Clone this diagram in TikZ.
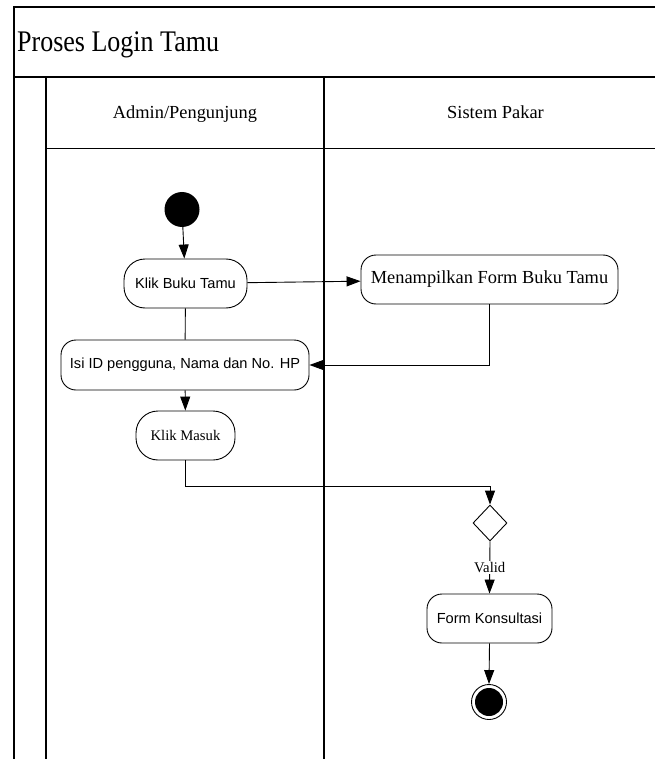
\documentclass[tikz,border=0pt]{standalone}
\usepackage{fontspec}
\setmainfont{Liberation Serif}
\newfontfamily\arialf{Liberation Sans}
\usetikzlibrary{arrows.meta,shapes.geometric}
\begin{document}
\begin{tikzpicture}[x=1pt,y=-1pt,
  act/.style={draw, line width=0.9pt, rounded corners=15pt, minimum height=49pt, inner sep=0pt, align=center},
  sans/.style={font=\arialf\fontsize{14.6}{17}\selectfont},
  serif/.style={font=\fontsize{14.7}{17}\selectfont},
  big/.style={font=\fontsize{18.4}{22}\selectfont},
  arr/.style={-{Triangle[length=14pt,width=10pt]}, line width=0.9pt},
  ln/.style={line width=0.9pt},
  framel/.style={line width=1.1pt}
]
\useasboundingbox (0,0) rectangle (654,759);
% frame and swimlanes
\draw[framel] (14,759) -- (14,7) -- (680,7);
\draw[line width=1.6pt] (14,77) -- (680,77);
\draw[framel] (46,77) -- (46,759);
\draw[framel] (324,77) -- (324,759);
\draw[framel] (46,148.5) -- (680,148.5);
\node[anchor=base west, inner sep=0pt, font=\fontsize{26}{30}\selectfont] (title) at (17,52) {\scalebox{1}[1.15]{Proses Login Tamu}};
\node[anchor=base, inner sep=0pt, big] (h1) at (185,119) {Admin/Pengunjung};
\node[anchor=base, inner sep=0pt, big] (h2) at (495.5,119) {Sistem Pakar};
% nodes
\node[circle, fill=black, minimum width=33pt, minimum height=35pt, inner sep=0pt] (start) at (182,209.5) {};
\node[act, sans, rounded corners=21pt, minimum width=123pt] (klik) at (185.5,283.5) {Klik Buku Tamu};
\node[act, big, minimum width=257pt] (tampil) at (489.5,279.5) {Menampilkan Form Buku Tamu};
\node[act, sans, minimum width=248pt, minimum height=50pt] (isi) at (185,365) {Isi ID pengguna, Nama dan No. HP};
\node[act, serif, rounded corners=22pt, minimum width=99pt] (masuk) at (185.5,435.5) {Klik Masuk};
\node[diamond, draw, line width=0.9pt, minimum width=34pt, minimum height=36pt, inner sep=0pt] (dec) at (490,523) {};
\node[act, sans, minimum width=125pt] (form) at (489.5,618.5) {Form Konsultasi};
\node[circle, draw, line width=0.9pt, minimum width=33pt, minimum height=35pt, inner sep=0pt] (end) at (489,702) {};
\node[circle, fill=black, minimum width=26pt, minimum height=28pt, inner sep=0pt] (endin) at (489,702) {};
\coordinate (j) at (490,486);
% connectors
\draw[arr] (start) -- (klik);
\draw[arr] (klik) -- (tampil);
\draw[ln] (klik) -- (isi);
\draw[arr] (tampil.south) |- (isi.east);
\draw[arr] (isi) -- (masuk);
\draw[ln] (masuk.south) |- (j);
\draw[arr] (j) -- (dec.north);
\draw[arr] (dec.south) -- node[midway, fill=white, inner sep=1pt, serif] (valid) {Valid} (form.north);
\draw[arr] (form.south) -- (end.north);
\end{tikzpicture}
\end{document}
